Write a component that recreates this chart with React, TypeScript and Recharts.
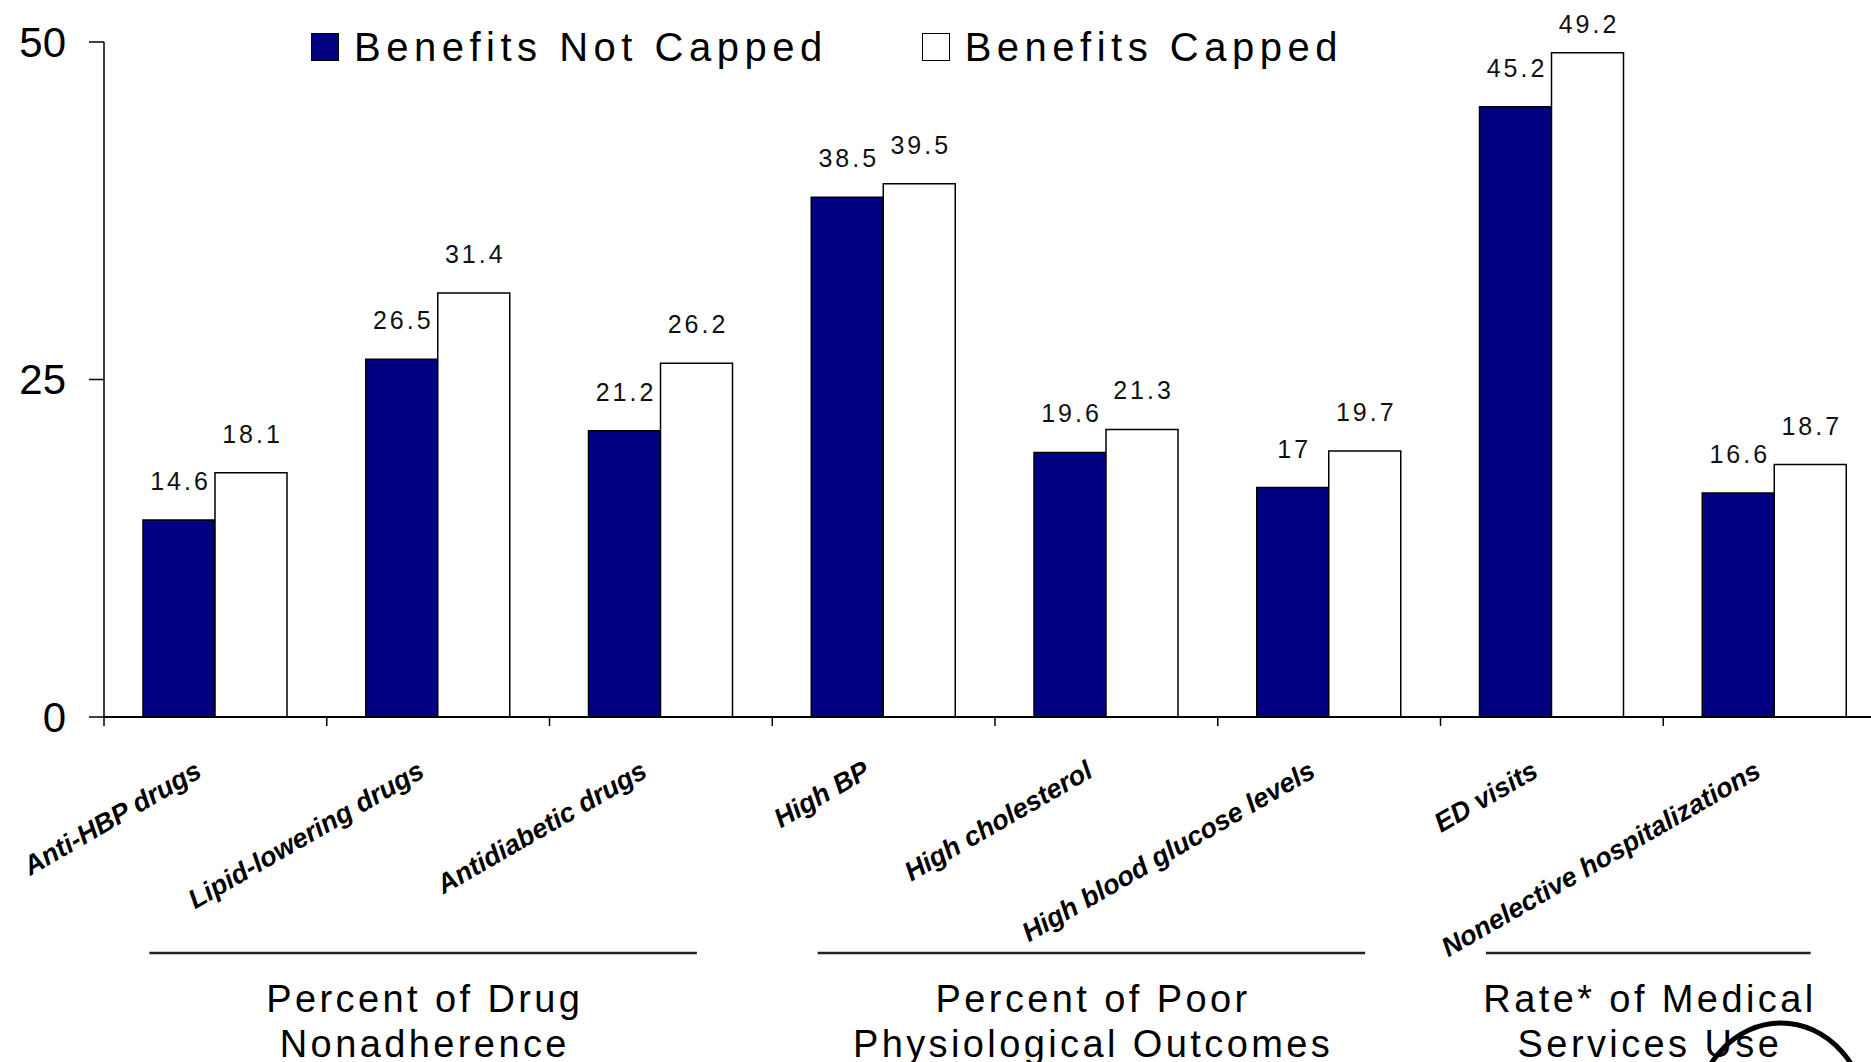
import { BarChart, Bar, XAxis, YAxis, Legend, LabelList } from 'recharts';

const categories = [
  'Anti-HBP drugs',
  'Lipid-lowering drugs',
  'Antidiabetic drugs',
  'High BP',
  'High cholesterol',
  'High blood glucose levels',
  'ED visits',
  'Nonelective hospitalizations',
];
const notCapped = [14.6, 26.5, 21.2, 38.5, 19.6, 17, 45.2, 16.6];
const capped = [18.1, 31.4, 26.2, 39.5, 21.3, 19.7, 49.2, 18.7];
const yTicks = [0, 25, 50];

const seriesNames = ['Benefits Not Capped', 'Benefits Capped'];
const seriesColors = ['#000080', '#ffffff'];

// outcome groups under the category labels: [first, last] category index
const groupRanges = [[0, 2], [3, 5], [6, 7]];
const groupTitles = [
  ['Percent of Drug', 'Nonadherence'],
  ['Percent of Poor', 'Physiological Outcomes'],
  ['Rate* of Medical', 'Services Use'],
];

const data = categories.map((name, i) => ({
  name,
  notCapped: notCapped[i],
  capped: capped[i],
}));

const CHART_W = 1900;
const CHART_H = 1062;
const AXIS_W = 104;
const MARGIN = { top: 42, right: 14, bottom: 0, left: 0 };
const STEP = (CHART_W - AXIS_W - MARGIN.left - MARGIN.right) / categories.length;
const FONT = '"Liberation Sans", Arial, Helvetica, sans-serif';

function CategoryTick(props: any) {
  const { x, y, payload, index } = props;
  const half = STEP / 2;
  const g = groupRanges.findIndex(([a]) => a === index);
  let bracket = null;
  if (g >= 0) {
    const [a, b] = groupRanges[g];
    const x1 = x - 66;
    const x2 = x + (b - a) * STEP + 36;
    const mid = (x1 + x2) / 2;
    bracket = (
      <g>
        <line x1={x1} x2={x2} y1={y + 236} y2={y + 236} stroke="#222" strokeWidth={2.5} />
        <text textAnchor="middle" fontFamily={FONT} fontSize={38} letterSpacing={3.4} fill="#000">
          <tspan x={mid + 1.7} y={y + 295}>{groupTitles[g][0]}</tspan>
          <tspan x={mid + 1.7} y={y + 340}>{groupTitles[g][1]}</tspan>
        </text>
      </g>
    );
  }
  const lx = x - 12;
  const ly = y + 59;
  return (
    <g>
      <line x1={x - half} x2={x - half} y1={y} y2={y + 9} stroke="#000" strokeWidth={1.5} />
      <text
        x={lx}
        y={ly}
        transform={`rotate(-30 ${lx} ${ly})`}
        textAnchor="end"
        fontFamily={FONT}
        fontWeight="bold"
        fontStyle="italic"
        fontSize={27}
        fill="#000"
      >
        {payload.value}
      </text>
      {bracket}
    </g>
  );
}

function ValueLabel(props: any) {
  const { x, y, width, value } = props;
  // keep the topmost labels inside the frame
  const ty = Math.max(Number(y) - 30, 33);
  return (
    <text
      x={Number(x) + Number(width) / 2 + 1.5}
      y={ty}
      textAnchor="middle"
      fontFamily={FONT}
      fontSize={25}
      letterSpacing={3}
      fill="#111"
    >
      {value}
    </text>
  );
}

function LegendRow() {
  return (
    <div style={{ display: 'flex', alignItems: 'center', fontFamily: FONT }}>
      {seriesNames.map((name, i) => (
        <div key={name} style={{ display: 'flex', alignItems: 'center', marginRight: 94 }}>
          <span
            style={{
              display: 'inline-block',
              width: 26,
              height: 26,
              background: seriesColors[i],
              border: '1.5px solid #000',
              marginRight: 15,
            }}
          />
          <span style={{ fontSize: 40, letterSpacing: 5.5, lineHeight: '48px', color: '#000' }}>
            {name}
          </span>
        </div>
      ))}
    </div>
  );
}

export default function App() {
  return (
    <div
      style={{
        position: 'absolute',
        left: 0,
        top: 0,
        width: 1871,
        height: CHART_H,
        overflow: 'hidden',
        background: '#fff',
      }}
    >
      <BarChart
        width={CHART_W}
        height={CHART_H}
        data={data}
        margin={MARGIN}
        barCategoryGap={39}
        barGap={0}
      >
        <XAxis
          dataKey="name"
          height={CHART_H - 42 - 675}
          axisLine={{ stroke: '#000', strokeWidth: 2 }}
          tickLine={false}
          tickSize={0}
          tickMargin={0}
          interval={0}
          tick={<CategoryTick />}
        />
        <YAxis
          width={AXIS_W}
          domain={[0, 50]}
          ticks={yTicks}
          axisLine={{ stroke: '#000', strokeWidth: 1.5 }}
          tickLine={{ stroke: '#000', strokeWidth: 1.5 }}
          tickSize={15}
          tickMargin={23}
          tick={{ fontFamily: FONT, fontSize: 42, fill: '#000' }}
        />
        <Legend
          layout="vertical"
          align="center"
          verticalAlign="middle"
          wrapperStyle={{ top: 23, left: 311, width: 1200, height: 48 }}
          content={<LegendRow />}
        />
        <Bar
          dataKey="notCapped"
          name={seriesNames[0]}
          fill={seriesColors[0]}
          stroke="#000"
          strokeWidth={1.5}
          isAnimationActive={false}
        >
          <LabelList dataKey="notCapped" content={<ValueLabel />} />
        </Bar>
        <Bar
          dataKey="capped"
          name={seriesNames[1]}
          fill={seriesColors[1]}
          stroke="#000"
          strokeWidth={1.5}
          isAnimationActive={false}
        >
          <LabelList dataKey="capped" content={<ValueLabel />} />
        </Bar>
      </BarChart>
      <svg
        width={1871}
        height={CHART_H}
        style={{ position: 'absolute', left: 0, top: 0, pointerEvents: 'none' }}
      >
        <ellipse cx={1781} cy={1123} rx={87} ry={100} fill="none" stroke="#000" strokeWidth={5} />
      </svg>
    </div>
  );
}
